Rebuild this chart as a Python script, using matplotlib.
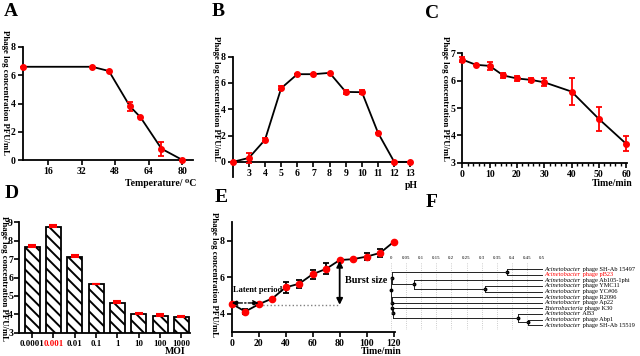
import matplotlib
matplotlib.use('Agg')
import matplotlib.pyplot as plt
from matplotlib.ticker import MultipleLocator
import numpy as np

plt.rcParams['font.family'] = ['Liberation Serif', 'DejaVu Serif']
plt.rcParams['font.weight'] = 'bold'
plt.rcParams['hatch.linewidth'] = 1.4

W, H = 640, 356

# A: temperature
temp = [4, 37, 45, 55, 60, 70, 80]
temp_log = [6.6, 6.6, 6.3, 3.8, 3.03, 0.8, 0.0]
temp_err = [0.0, 0.0, 0.0, 0.3, 0.0, 0.5, 0.0]

# B: pH
ph = [2, 3, 4, 5, 6, 7, 8, 9, 10, 11, 12, 13]
ph_log = [0.0, 0.3, 1.68, 5.6, 6.67, 6.67, 6.77, 5.32, 5.3, 2.2, 0.0, 0.0]
ph_err = [0.0, 0.4, 0.15, 0.15, 0.0, 0.0, 0.0, 0.15, 0.15, 0.0, 0.0, 0.0]

# C: stability over time
t_c = [0, 5, 10, 15, 20, 25, 30, 40, 50, 60]
c_log = [6.77, 6.58, 6.54, 6.19, 6.08, 6.03, 5.94, 5.6, 4.6, 3.69]
c_err = [0.1, 0.0, 0.15, 0.1, 0.1, 0.08, 0.15, 0.5, 0.45, 0.27]

# D: MOI
moi = ['0.0001', '0.001', '0.01', '0.1', '1', '10', '100', '1000']
moi_log = [7.66, 8.73, 7.14, 5.64, 4.64, 4.02, 3.92, 3.87]
moi_err = [0.08, 0.12, 0.07, 0.03, 0.08, 0.03, 0.07, 0.05]

# E: one-step growth
t_e = [0, 10, 20, 30, 40, 50, 60, 70, 80, 90, 100, 110, 120]
e_log = [4.56, 4.13, 4.53, 4.84, 5.45, 5.65, 6.17, 6.46, 6.94, 6.99, 7.13, 7.33, 7.93]
e_err = [0.0, 0.15, 0.0, 0.0, 0.3, 0.22, 0.25, 0.3, 0.0, 0.0, 0.2, 0.2, 0.0]
latent = (0, 20, 4.6)
burst = (80, 4.5, 6.9)

# F: tree
genus = ['Acinetobacter'] * 7 + ['Enterobacteria'] + ['Acinetobacter'] * 3
rest = ['phage SH-Ab 15497', 'phage pB23', 'phage Ab105-1phi', 'phage YMC11',
        'phage YC#06', 'phage R2096', 'phage Ap22', 'phage K30', 'AB3',
        'phage Abp1', 'phage SH-Ab 15519']
highlight = 1
tree = (0.0, [
    (0.003, [(0.385, [0, 1]),
             (0.075, [2, (0.31, [3, 4])])]),
    (0.004, [5,
             (0.002, [6,
                      (0.008, [7,
                               (0.42, [8, (0.455, [9, 10])])])])]),
])
leaf_x = 0.5


def box(l, t, r, b):
    return [l / W, 1 - b / H, (r - l) / W, (b - t) / H]


def style(ax):
    for s in ['top', 'right']:
        ax.spines[s].set_visible(False)
    for s in ['left', 'bottom']:
        ax.spines[s].set_linewidth(1.3)
    ax.tick_params(width=1.2, length=3.5, labelsize=7, pad=1.5)


def ftext(x, y, s, **kw):
    fig.text(x / W, 1 - y / H, s, ha='center', va='center', **kw)


fig = plt.figure(figsize=(6.4, 3.56), dpi=100)
ylab = 'Phage log concentration PFU/mL'

# A
ax = fig.add_axes(box(22.7, 47, 193, 160))
ax.plot(temp, temp_log, color='black', lw=1.3, zorder=2)
ax.errorbar(temp, temp_log, yerr=temp_err, fmt='o', color='red', ms=4,
            ecolor='red', elinewidth=1.3, capsize=2.5, capthick=1.3, zorder=3, clip_on=False)
ax.set_xlim(4, 85)
ax.set_ylim(0, 8)
ax.set_xticks([16, 32, 48, 64, 80])
ax.set_yticks([0, 2, 4, 6, 8])
style(ax)

# B
ax = fig.add_axes(box(232.7, 56.7, 412, 177))
ax.plot(ph, ph_log, color='black', lw=1.3, zorder=2)
ax.errorbar(ph, ph_log, yerr=ph_err, fmt='o', color='red', ms=4,
            ecolor='red', elinewidth=1.3, capsize=2.5, capthick=1.3, zorder=3, clip_on=False)
ax.set_xlim(2, 13.1)
ax.set_ylim(-1.15, 8)
ax.spines['bottom'].set_position(('data', 0))
ax.set_xticks(range(3, 14))
ax.set_yticks([0, 2, 4, 6, 8])
style(ax)

# C
ax = fig.add_axes(box(462.3, 53.3, 627, 162.7))
ax.plot(t_c, c_log, color='black', lw=1.3, zorder=2)
ax.errorbar(t_c, c_log, yerr=c_err, fmt='o', color='red', ms=4,
            ecolor='red', elinewidth=1.3, capsize=2.5, capthick=1.3, zorder=3, clip_on=False)
ax.set_xlim(0, 60.3)
ax.set_ylim(3, 7)
ax.set_xticks(range(0, 61, 10))
ax.xaxis.set_minor_locator(MultipleLocator(2))
ax.set_yticks([3, 4, 5, 6, 7])
style(ax)
ax.tick_params(which='minor', length=2, width=1)

# D
ax = fig.add_axes(box(19.3, 222.3, 190, 332.7))
x = np.arange(len(moi))
ax.bar(x, moi_log, width=0.7, color='white', edgecolor='black', hatch='\\\\\\',
       linewidth=1.3, zorder=2)
ax.errorbar(x, moi_log, yerr=[np.zeros(len(moi)), moi_err], fmt='none', ecolor='red',
            elinewidth=1.3, capsize=3, capthick=1.5, zorder=3)
ax.set_xlim(-0.6, 7.4)
ax.set_ylim(3, 9)
ax.set_xticks(x)
ax.set_xticklabels(moi)
ax.set_yticks(range(3, 10))
style(ax)
ax.tick_params(axis='y', pad=1)
ax.tick_params(axis='x', labelsize=6.3)
ax.get_xticklabels()[1].set_color('red')

# E
ax = fig.add_axes(box(231.7, 222.3, 395, 332.3))
ax.plot(t_e, e_log, color='black', lw=1.3, zorder=2)
ax.errorbar(t_e, e_log, yerr=e_err, fmt='none', ecolor='black', elinewidth=1.3,
            capsize=2.5, capthick=1.3, zorder=2)
ax.plot(t_e, e_log, 'o', color='red', ms=4.5, zorder=3, clip_on=False)
ax.set_xlim(0, 121)
ax.set_ylim(3, 9)
ax.set_xticks(range(0, 121, 20))
ax.set_yticks([4, 6, 8])
style(ax)
ax.annotate('', xy=(latent[0], latent[2]), xytext=(latent[1], latent[2]),
            arrowprops=dict(arrowstyle='<|-|>', color='black', lw=1.0, ls='-.',
                            mutation_scale=8, shrinkA=0, shrinkB=0), annotation_clip=False)
ax.text(1, 5.3, 'Latent period', fontsize=6, ha='left', va='center')
ax.plot([latent[1], burst[0]], [burst[1], burst[1]], ls=':', color='gray', lw=1)
ax.annotate('', xy=(burst[0], burst[1]), xytext=(burst[0], burst[2]),
            arrowprops=dict(arrowstyle='<|-|>', color='black', lw=1.3,
                            mutation_scale=9, shrinkA=0, shrinkB=0))
ax.text(84, 5.85, 'Burst size', fontsize=7.3, ha='left', va='center')

# F
ax = fig.add_axes(box(391, 262, 542, 330))
ax.patch.set_visible(False)
ax.set_xlim(0, 0.5)
ax.set_ylim(10.85, -1.25)
for s in ax.spines.values():
    s.set_visible(False)
ax.xaxis.tick_top()
ax.set_xticks(np.arange(0, 0.51, 0.05))
ax.set_xticklabels(['0', '0.05', '0.1', '0.15', '0.2', '0.25', '0.3', '0.35', '0.4',
                    '0.45', '0.5'], fontsize=3.5, fontweight='normal')
ax.tick_params(length=0, pad=1.5)
ax.set_yticks([])
ax.grid(axis='x', ls=':', color='#bbbbbb', lw=0.6)


def draw(node):
    if isinstance(node, int):
        return leaf_x, node
    h, kids = node
    ys = []
    for k in kids:
        kx, ky = draw(k)
        ax.plot([h, kx], [ky, ky], color='#222222', lw=0.7, clip_on=False)
        ys.append(ky)
    ax.plot([h, h], [min(ys), max(ys)], color='#222222', lw=0.7, clip_on=False)
    ym = (min(ys) + max(ys)) / 2
    ax.plot(h, ym, 'o', color='black', ms=1.8, clip_on=False)
    return h, ym


draw(tree)
for i in range(len(genus)):
    c = 'red' if i == highlight else 'black'
    t1 = ax.text(leaf_x + 0.008, i, genus[i], fontsize=4.6, style='italic',
                 fontweight='normal', color=c, va='center', ha='left')
    ax.annotate(' ' + rest[i], xy=(1, 0.5), xycoords=t1, fontsize=4.6,
                fontweight='normal', color=c, va='center', ha='left')

# panel letters and axis labels
for s, px_, py_ in [('A', 11, 12), ('B', 218, 12), ('C', 432, 13),
                    ('D', 12, 193), ('E', 221, 197), ('F', 432, 202)]:
    ftext(px_, py_, s, fontsize=14)
for px_, py_ in [(5, 93), (216, 99), (445, 99), (4, 278), (214, 275)]:
    ftext(px_, py_, ylab, fontsize=6.3, rotation=270)
ftext(161, 183, 'Temperature/ \u2070C', fontsize=7)
ftext(411, 185, 'pH', fontsize=7)
ftext(612, 183, 'Time/min', fontsize=7)
ftext(175, 352, 'MOI', fontsize=7)
ftext(381, 352, 'Time/min', fontsize=7)

fig.savefig('out.png', dpi=100)
